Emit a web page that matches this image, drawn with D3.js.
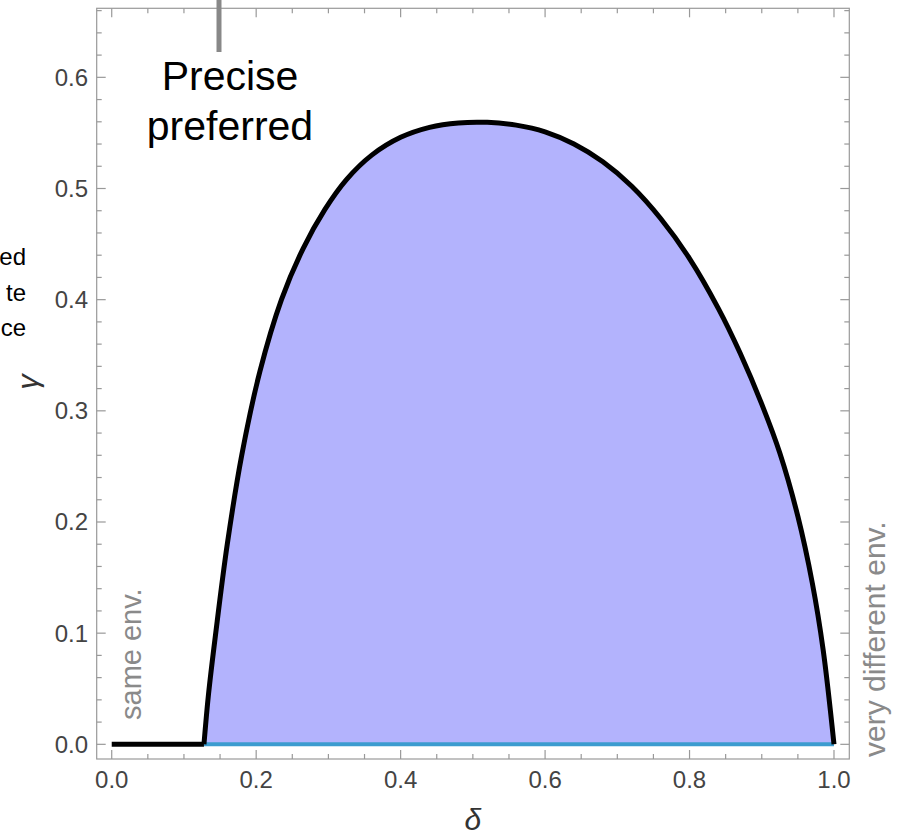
<!DOCTYPE html>
<html>
<head>
<meta charset="utf-8">
<script src="https://cdn.jsdelivr.net/npm/d3@7"></script>
<style>
  html, body { margin: 0; padding: 0; background: #fff; }
  svg { display: block; font-family: "Liberation Sans", Arial, sans-serif; }
  .tick-label { font-size: 24px; fill: #444; }
  .side-note { fill: #8a8a8a; }
</style>
</head>
<body>
<div class="chart"></div>
<script>
// curve: delta -> gamma
var deltaVals = [0.1277, 0.134, 0.144, 0.160, 0.180, 0.205, 0.235, 0.265, 0.295, 0.325, 0.360, 0.400, 0.440, 0.480,
                 0.520, 0.560, 0.600, 0.640, 0.680, 0.720, 0.760, 0.800, 0.840, 0.870, 0.900, 0.925, 0.950, 0.970,
                 0.985, 1.0];
var gammaVals = [0, 0.045, 0.100, 0.180, 0.260, 0.335, 0.400, 0.446, 0.481, 0.508, 0.530, 0.546, 0.555, 0.559,
                 0.5595, 0.557, 0.551, 0.540, 0.524, 0.502, 0.473, 0.437, 0.392, 0.352, 0.306, 0.262, 0.205, 0.145,
                 0.085, 0];
var flatDelta = [0, 0.1277];
var xTickVals = [0, 0.2, 0.4, 0.6, 0.8, 1.0];
var yTickVals = [0, 0.1, 0.2, 0.3, 0.4, 0.5, 0.6];
var cutLabel = ["ed", "te", "ce"];
var headLabel = ["Precise", "preferred"];

var width = 897, height = 838;

var x = d3.scaleLinear().domain([-0.0208, 1.0212]).range([96.7, 849.3]);
var y = d3.scaleLinear().domain([-0.0132, 0.6621]).range([759, 8.3]);

var svg = d3.select(".chart").append("svg")
  .attr("width", width)
  .attr("height", height);

var pts = deltaVals.map(function(d, i) { return [d, gammaVals[i]]; });
var smooth = d3.curveCatmullRom.alpha(0.5);

// filled region
var area = d3.area()
  .x(function(d) { return x(d[0]); })
  .y0(y(0))
  .y1(function(d) { return y(d[1]); })
  .curve(smooth);

svg.append("path")
  .datum(pts)
  .attr("d", area)
  .attr("fill", "#b3b3fd");

// blue base line
svg.append("line")
  .attr("x1", x(deltaVals[0]))
  .attr("x2", x(1.0))
  .attr("y1", y(0))
  .attr("y2", y(0))
  .attr("stroke", "#3c9ccf")
  .attr("stroke-width", 4);

var line = d3.line()
  .x(function(d) { return x(d[0]); })
  .y(function(d) { return y(d[1]); })
  .curve(smooth);

svg.append("path")
  .datum(pts)
  .attr("d", line)
  .attr("fill", "none")
  .attr("stroke", "#000")
  .attr("stroke-width", 5)
  .attr("stroke-linejoin", "round");

svg.append("path")
  .datum(flatDelta.map(function(d) { return [d, 0]; }))
  .attr("d", d3.line().x(function(d) { return x(d[0]); }).y(function(d) { return y(d[1]); }))
  .attr("fill", "none")
  .attr("stroke", "#000")
  .attr("stroke-width", 5);

// frame + ticks
var frameColor = "#999";
svg.append("rect")
  .attr("x", x.range()[0])
  .attr("y", y.range()[1])
  .attr("width", x.range()[1] - x.range()[0])
  .attr("height", y.range()[0] - y.range()[1])
  .attr("fill", "none")
  .attr("stroke", frameColor)
  .attr("stroke-width", 1.2);

var xMinor = d3.range(0, 1.001, 0.05);
var yMinor = d3.range(0, 0.661, 0.02);

function isMajor(v, step) { return Math.abs(v / step - Math.round(v / step)) < 1e-6; }

var ticks = svg.append("g").attr("stroke", frameColor).attr("stroke-width", 1.2);
xMinor.forEach(function(v) {
  var len = isMajor(v, 0.2) ? 9 : 5;
  ticks.append("line").attr("x1", x(v)).attr("x2", x(v)).attr("y1", y.range()[0]).attr("y2", y.range()[0] - len);
  ticks.append("line").attr("x1", x(v)).attr("x2", x(v)).attr("y1", y.range()[1]).attr("y2", y.range()[1] + len);
});
yMinor.forEach(function(v) {
  var len = isMajor(v, 0.1) ? 9 : 5;
  ticks.append("line").attr("y1", y(v)).attr("y2", y(v)).attr("x1", x.range()[0]).attr("x2", x.range()[0] + len);
  ticks.append("line").attr("y1", y(v)).attr("y2", y(v)).attr("x1", x.range()[1]).attr("x2", x.range()[1] - len);
});

svg.selectAll(".xlab")
  .data(xTickVals)
  .enter().append("text")
    .attr("class", "tick-label")
    .attr("x", function(d) { return x(d); })
    .attr("y", 788)
    .style("text-anchor", "middle")
    .text(function(d) { return d.toFixed(1); });

svg.selectAll(".ylab")
  .data(yTickVals)
  .enter().append("text")
    .attr("class", "tick-label")
    .attr("x", 88)
    .attr("y", function(d) { return y(d) + 8.5; })
    .style("text-anchor", "end")
    .text(function(d) { return d.toFixed(1); });

// axis labels
svg.append("text")
  .attr("x", x(0.5))
  .attr("y", 830)
  .style("text-anchor", "middle")
  .style("font-size", "30px")
  .style("font-style", "italic")
  .attr("fill", "#333")
  .text("δ");

svg.append("text")
  .attr("transform", "translate(38,382) rotate(-90)")
  .style("text-anchor", "middle")
  .style("font-size", "30px")
  .style("font-style", "italic")
  .attr("fill", "#333")
  .text("γ");

// side notes
svg.append("text")
  .attr("class", "side-note")
  .style("font-size", "29px")
  .attr("transform", "translate(141,720) rotate(-90)")
  .text("same env.");

svg.append("text")
  .attr("class", "side-note")
  .style("font-size", "30px")
  .attr("transform", "translate(885,757) rotate(-90)")
  .text("very different env.");

// annotation at top
svg.append("line")
  .attr("x1", 219).attr("x2", 219)
  .attr("y1", 0).attr("y2", 52)
  .attr("stroke", "#888")
  .attr("stroke-width", 5);

svg.selectAll(".head")
  .data(headLabel)
  .enter().append("text")
    .attr("x", 230)
    .attr("y", function(d, i) { return 90 + i * 50; })
    .style("text-anchor", "middle")
    .style("font-size", "41px")
    .attr("fill", "#000")
    .text(function(d) { return d; });

svg.selectAll(".cut")
  .data(cutLabel)
  .enter().append("text")
    .attr("x", 26)
    .attr("y", function(d, i) { return 265 + i * 35.5; })
    .style("text-anchor", "end")
    .style("font-size", "24px")
    .attr("fill", "#000")
    .text(function(d) { return d; });
</script>
</body>
</html>
